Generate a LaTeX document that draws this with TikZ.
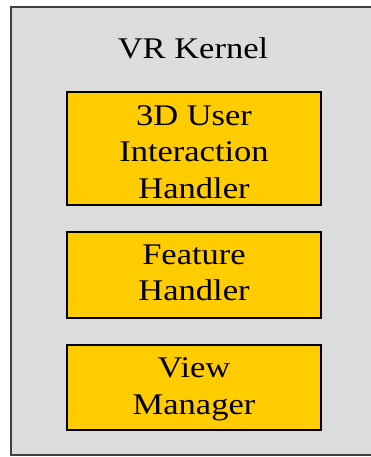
\documentclass[tikz,border=0pt]{standalone}
\usepackage{fontspec}
\setmainfont[FakeStretch=1.15]{Liberation Serif}
\usepackage{tikz}

\begin{document}
\begin{tikzpicture}[x=1pt,y=-1pt]
        \tikzstyle{every node} = [rectangle, font=\fontsize{30}{36.5}\selectfont]
        \tikzstyle{part} = [draw=black, line width=2pt, fill=partyellow,
                minimum width=254pt, inner sep=0pt, align=center]
        \definecolor{kernelgray}{HTML}{DCDCDC}
        \definecolor{partyellow}{HTML}{FFCC00}
        \useasboundingbox (0,0) rectangle (371,457);

        % kernel frame, cut off at the right edge
        \draw[draw=black!75, line width=1.5pt, fill=kernelgray] (11,7) rectangle (380,455);
        \node (kernel) at (193,48) {VR Kernel};

        \node[part, minimum height=113pt, text height=99.3pt, text depth=0pt] (ui) at (194,148.5) {3D User\\Interaction\\Handler};
        \node[part, minimum height=86pt, text depth=5pt] (feature) at (194,275) {Feature\\Handler};
        \node[part, minimum height=85pt, text depth=3pt] (view) at (194,387.5) {View\\Manager};
      \end{tikzpicture}
\end{document}
